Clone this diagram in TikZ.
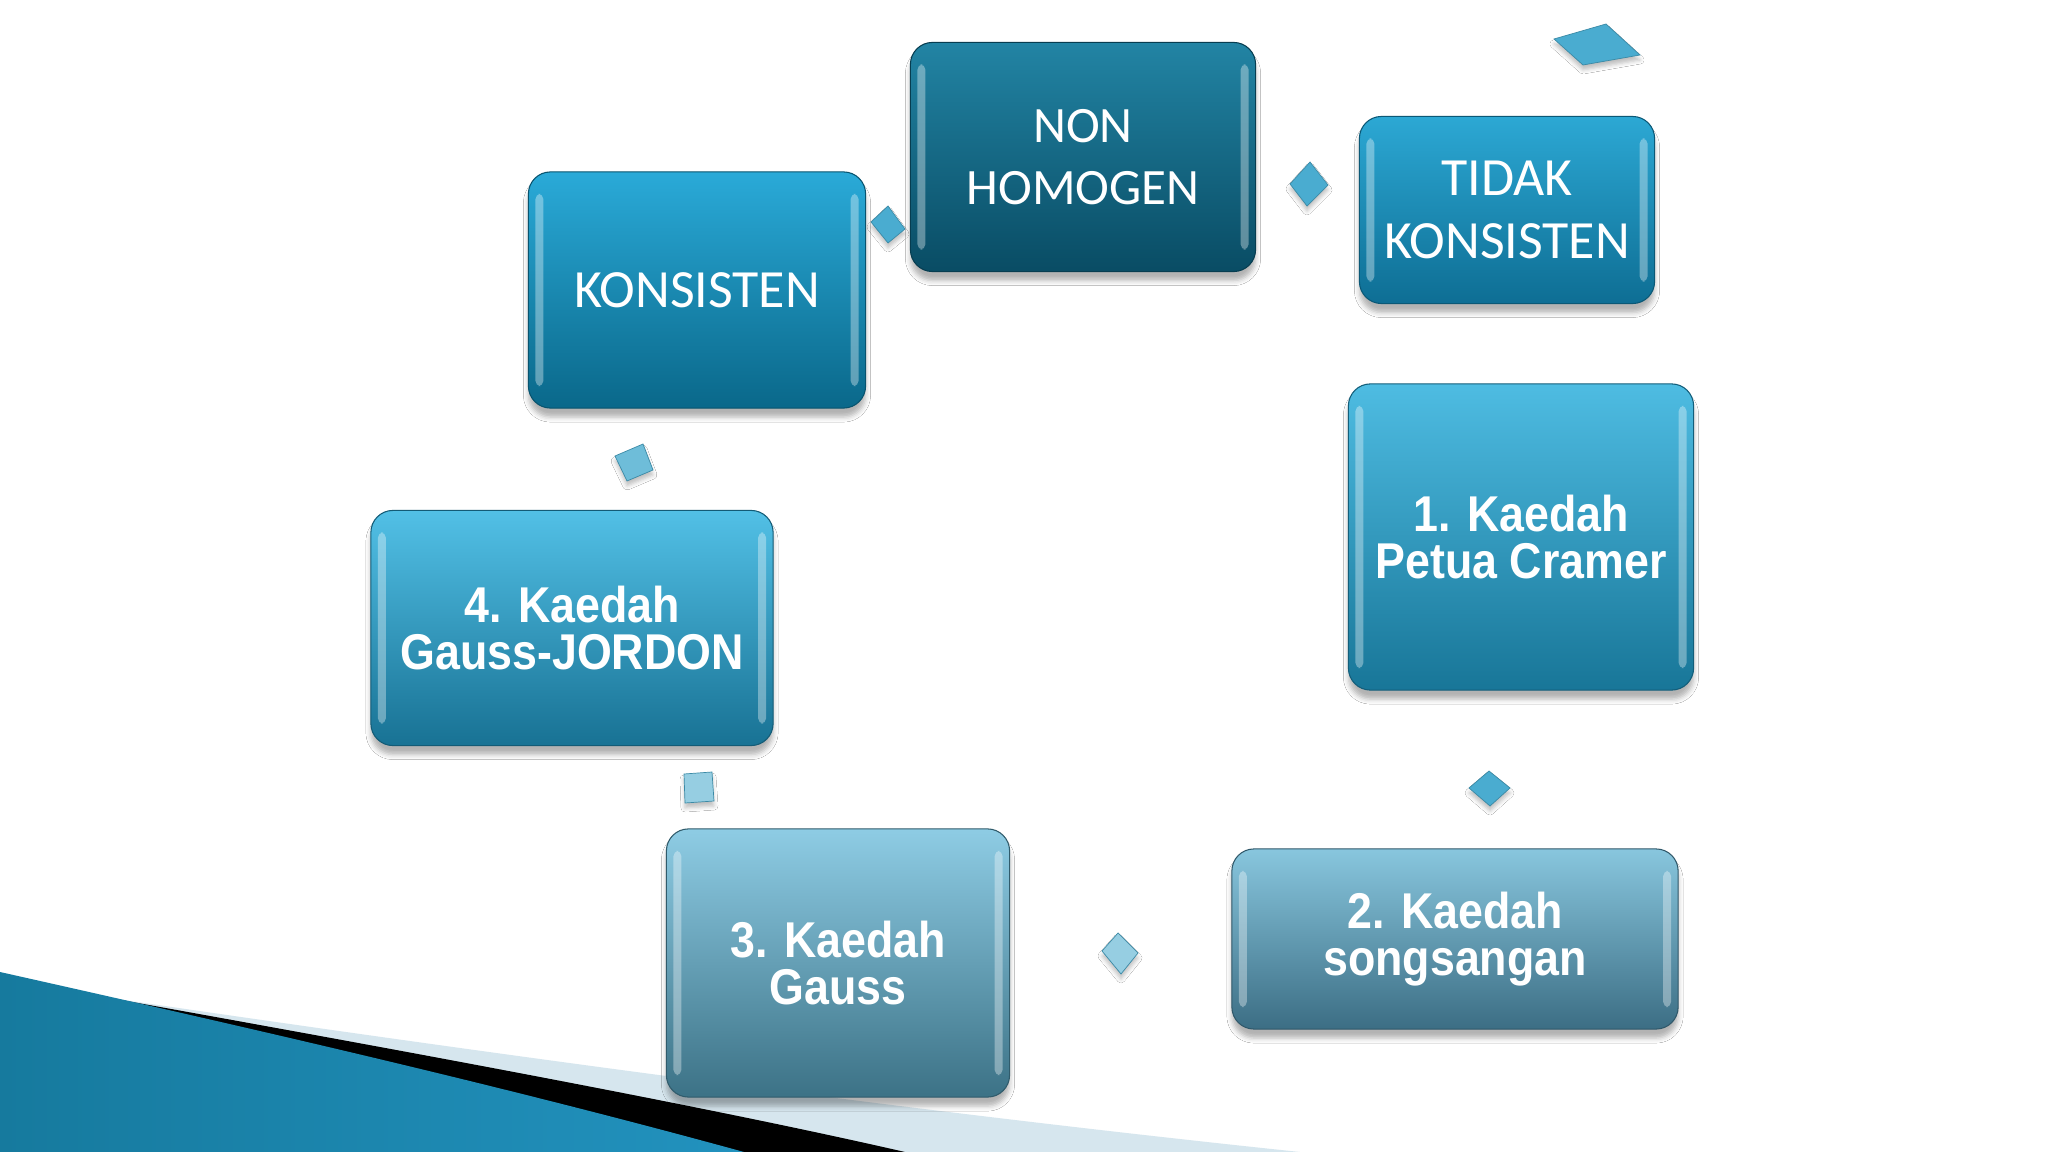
\documentclass[tikz,border=0pt]{standalone}
\usepackage{fontspec}
\usetikzlibrary{shapes.geometric, shadows.blur, calc}
\newfontfamily\calibrifont{Carlito}
\newfontfamily\arialfont[FakeStretch=0.89]{Liberation Sans}
\definecolor{nontop}{RGB}{34,132,164}
\definecolor{nonbot}{RGB}{9,76,100}
\definecolor{tidaktop}{RGB}{44,168,212}
\definecolor{tidakbot}{RGB}{14,110,148}
\definecolor{konstop}{RGB}{42,170,216}
\definecolor{konsbot}{RGB}{10,104,138}
\definecolor{cramertop}{RGB}{78,188,226}
\definecolor{cramerbot}{RGB}{24,118,152}
\definecolor{jordontop}{RGB}{82,192,230}
\definecolor{jordonbot}{RGB}{24,114,148}
\definecolor{gausstop}{RGB}{142,204,228}
\definecolor{gaussbot}{RGB}{60,114,134}
\definecolor{songtop}{RGB}{136,198,222}
\definecolor{songbot}{RGB}{60,110,132}
\definecolor{gemblue}{RGB}{74,172,208}
\definecolor{gemlight}{RGB}{150,206,226}
\definecolor{swoopdark}{RGB}{22,122,158}
\definecolor{swoopmid}{RGB}{86,190,226}
\definecolor{swoopedge}{RGB}{34,146,190}
\definecolor{swooplight}{RGB}{214,230,238}

\begin{document}
\begin{tikzpicture}[x=0.01cm, y=-0.01cm,
        box/.style 2 args={rectangle, rounded corners=0.22cm, align=center, text=white,
            top color=#1, bottom color=#2, draw=#2!80!black, line width=0.3pt,
            blur shadow={shadow xshift=0cm, shadow yshift=-0.09cm, shadow blur radius=0.05cm, shadow opacity=30},
            path picture={
                \fill[white, opacity=0.35, rounded corners=1.5pt]
                    ([xshift=0.07cm, yshift=-0.22cm]path picture bounding box.north west)
                    rectangle ([xshift=0.15cm, yshift=0.22cm]path picture bounding box.south west);
                \fill[white, opacity=0.35, rounded corners=1.5pt]
                    ([xshift=-0.15cm, yshift=-0.22cm]path picture bounding box.north east)
                    rectangle ([xshift=-0.07cm, yshift=0.22cm]path picture bounding box.south east);
            }},
        plain/.style={font=\calibrifont\fontsize{15.3}{17.8}\selectfont},
        heavy/.style={font=\arialfont\bfseries\fontsize{14.3}{13.3}\selectfont},
        gem/.style={fill=gemblue, draw=gemblue!80!black, line width=0.2pt,
            blur shadow={shadow xshift=0cm, shadow yshift=-0.05cm, shadow blur radius=0.04cm, shadow opacity=25}}
    ]
    \useasboundingbox (0,0) rectangle (2048,1152);
    \fill[white] (0,0) rectangle (2048,1152);

    \fill[swooplight] (110,998) .. controls (500,1055) and (900,1110) .. (1300,1152) -- (0,1152) -- cycle;
    \fill[black] (110,998) .. controls (400,1050) and (700,1105) .. (905,1152) -- (0,1152) -- cycle;
    \shade[left color=swoopdark, middle color=swoopmid, right color=swoopedge]
        (0,972) .. controls (250,1028) and (500,1085) .. (744,1152) -- (0,1152) -- cycle;

    \node[box={nontop}{nonbot}, plain, font=\calibrifont\fontsize{14.5}{17.8}\selectfont, minimum width=3.45cm, minimum height=2.29cm] (non) at (1083,157) {NON\\HOMOGEN};
    \node[box={tidaktop}{tidakbot}, plain, minimum width=2.95cm, minimum height=1.87cm] (tidak) at (1507,210) {TIDAK\\KONSISTEN};
    \node[box={konstop}{konsbot}, plain, minimum width=3.37cm, minimum height=2.36cm] (konsisten) at (697,290) {KONSISTEN};
    \node[box={cramertop}{cramerbot}, heavy, minimum width=3.45cm, minimum height=3.06cm] (cramer) at (1521,537) {1. Kaedah\\Petua Cramer};
    \node[box={songtop}{songbot}, heavy, minimum width=4.46cm, minimum height=1.80cm] (songsang) at (1455,939) {2. Kaedah\\songsangan};
    \node[box={gausstop}{gaussbot}, heavy, minimum width=3.43cm, minimum height=2.68cm] (gauss) at (838,963) {3. Kaedah\\Gauss};
    \node[box={jordontop}{jordonbot}, heavy, minimum width=4.02cm, minimum height=2.35cm] (jordon) at (572,628) {4. Kaedah\\Gauss-JORDON};

    \fill[gem] (871,222) -- (888,206) -- (905,229) -- (888,243) -- cycle;
    \fill[gem] (1290,184) -- (1310,162) -- (1328,185) -- (1307,206) -- cycle;
    \fill[gem] (1554,39) -- (1606,24) -- (1640,55) -- (1583,65) -- cycle;
    \fill[gem, fill=gemblue!80!white] (615,456) -- (643,444) -- (653,470) -- (627,481) -- cycle;
    \fill[gem, fill=gemlight] (684,774) -- (712,772) -- (714,801) -- (685,803) -- cycle;
    \fill[gem, fill=gemlight] (1102,951) -- (1118,933) -- (1138,953) -- (1121,974) -- cycle;
    \fill[gem] (1469,788) -- (1489,771) -- (1510,788) -- (1490,806) -- cycle;
\end{tikzpicture}
\end{document}
